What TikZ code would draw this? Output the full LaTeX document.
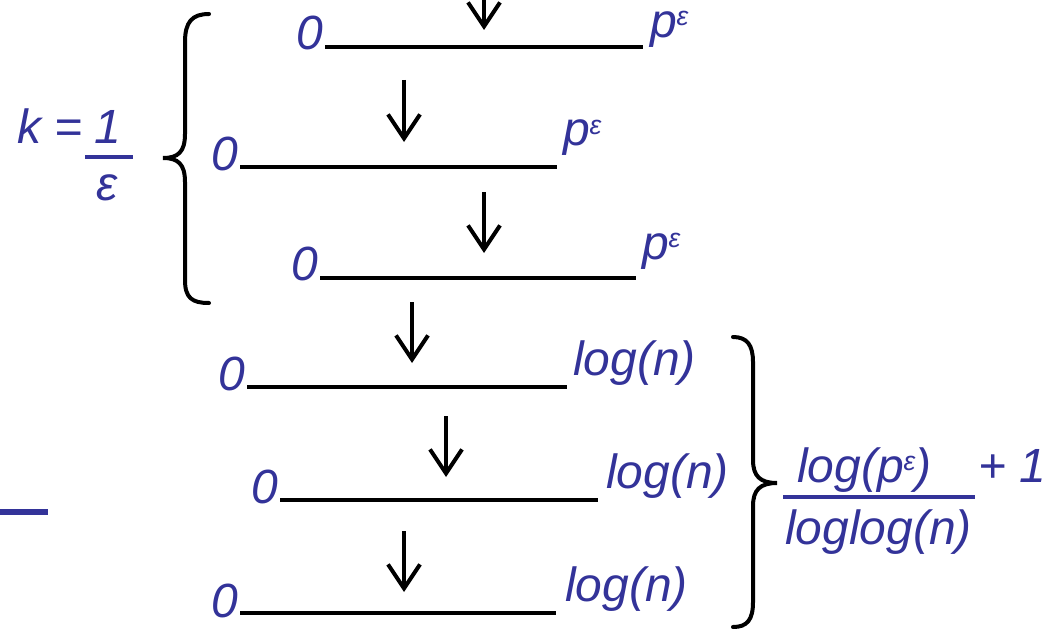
\documentclass[tikz,border=0pt]{standalone}
\usepackage{fontspec}
\setmainfont{Liberation Sans}
\usetikzlibrary{arrows.meta}
\definecolor{tblue}{RGB}{51,51,153}
\newcommand\epsup{\raisebox{9pt}{\fontsize{20}{22}\selectfont ε}}
\begin{document}
\begin{tikzpicture}[x=0.75pt,y=-0.75pt,
  lbl/.style={text=tblue, font=\fontsize{36}{40}\selectfont\itshape, inner sep=0pt, outer sep=0pt},
  seg/.style={line width=3pt},
  arr/.style={line width=3pt, -{Straight Barb[length=18pt,width=24pt]}},
  bracep/.style={line width=3pt, line cap=round}]
\useasboundingbox (0,0) rectangle (1044,631);

% segments
\coordinate (l1a) at (325,47);  \coordinate (l1b) at (643,47);
\coordinate (l2a) at (240,167); \coordinate (l2b) at (557,167);
\coordinate (l3a) at (320,278); \coordinate (l3b) at (636,278);
\coordinate (l4a) at (247,387); \coordinate (l4b) at (567,387);
\coordinate (l5a) at (280,500); \coordinate (l5b) at (598,500);
\coordinate (l6a) at (240,613); \coordinate (l6b) at (556,613);
\foreach \i in {1,...,6} { \draw[seg] (l\i a) -- (l\i b); }

% zeros
\node[lbl, anchor=base east] (z1) at (323,50) {0};
\node[lbl, anchor=base east] (z2) at (238,170) {0};
\node[lbl, anchor=base east] (z3) at (318,280) {0};
\node[lbl, anchor=base east] (z4) at (245,390) {0};
\node[lbl, anchor=base east] (z5) at (278,503) {0};
\node[lbl, anchor=base east] (z6) at (238,617) {0};

% right labels
\node[lbl, anchor=base west] (r1) at (650,38) {p\epsup};
\node[lbl, anchor=base west] (r2) at (563,146) {p\epsup};
\node[lbl, anchor=base west] (r3) at (642,259) {p\epsup};
\node[lbl, anchor=base west] (r4) at (573,375) {log(n)};
\node[lbl, anchor=base west] (r5) at (606,488) {log(n)};
\node[lbl, anchor=base west] (r6) at (565,601) {log(n)};

% arrows
\coordinate (a1s) at (484,-10); \coordinate (a1e) at (484,30);
\coordinate (a2s) at (404,80);  \coordinate (a2e) at (404,142);
\coordinate (a3s) at (484,192); \coordinate (a3e) at (484,253);
\coordinate (a4s) at (412,302); \coordinate (a4e) at (412,363);
\coordinate (a5s) at (446,416); \coordinate (a5e) at (446,477);
\coordinate (a6s) at (404,531); \coordinate (a6e) at (404,592);
\foreach \i in {1,...,6} { \draw[arr] (a\i s) -- (a\i e); }

% left brace
\draw[bracep] (209,14) .. controls (192,14) and (185,22) .. (185,42)
  -- (185,134) .. controls (185,152) and (178,158) .. (163,158)
  .. controls (178,158) and (185,164) .. (185,182)
  -- (185,280) .. controls (185,298) and (192,303) .. (209,303);
% right brace
\draw[bracep] (733,337) .. controls (747,337) and (753,345) .. (753,362)
  -- (753,460) .. controls (753,476) and (760,483) .. (777,483)
  .. controls (760,483) and (753,490) .. (753,506)
  -- (753,602) .. controls (753,620) and (747,627) .. (733,627);

% k = 1/eps
\node[lbl, anchor=base west] (k) at (17,143) {k =};
\node[lbl, anchor=base] (one) at (108,143) {1};
\coordinate (fb1) at (85,157); \coordinate (fb2) at (133,157);
\draw[tblue, line width=2.5pt] (fb1) -- (fb2);
\node[lbl, anchor=base] (eps) at (107,200) {ε};

% right fraction
\node[lbl, anchor=base west] (num) at (797,482) {log(p\epsup)};
\coordinate (rb1) at (783,497); \coordinate (rb2) at (975,497);
\draw[tblue, line width=2.5pt] (rb1) -- (rb2);
\node[lbl, anchor=base west] (den) at (785,544) {loglog(n)};
\node[lbl, anchor=base west] (plus) at (978,482) {+ 1};

% blue dash
\fill[tblue] (0,509) rectangle (48,515);
\end{tikzpicture}
\end{document}
